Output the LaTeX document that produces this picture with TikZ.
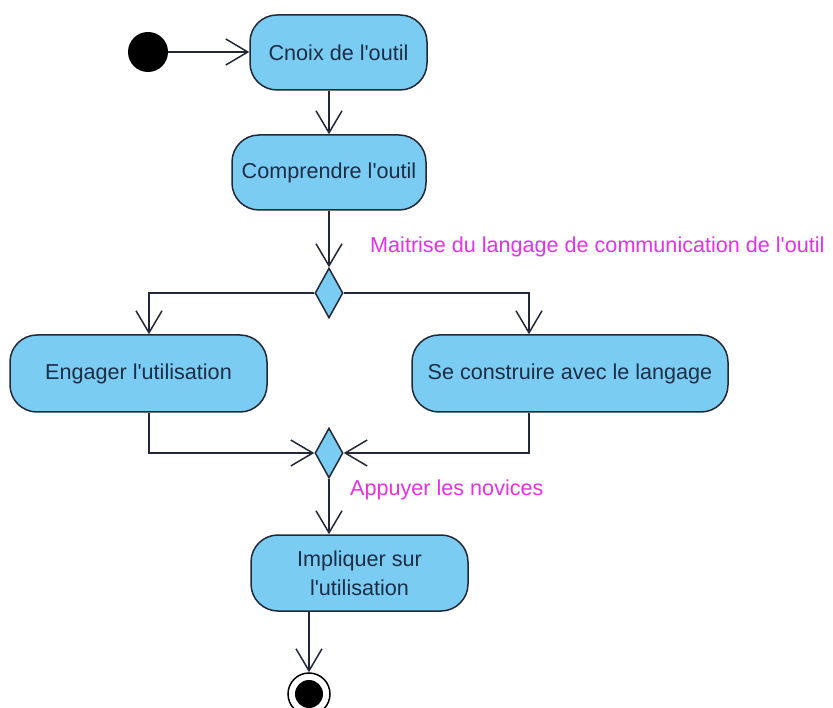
\documentclass[tikz,border=0pt]{standalone}
\usepackage{fontspec}
\setmainfont{Liberation Sans}
\usetikzlibrary{shapes.geometric,arrows.meta}
\definecolor{actfill}{RGB}{122,204,243}
\definecolor{actline}{RGB}{35,40,55}
\definecolor{acttext}{RGB}{30,45,70}
\definecolor{guard}{RGB}{228,50,228}
\newcommand{\apos}{\textquotesingle}
\tikzset{
  activity/.style={rectangle, rounded corners=27pt, draw=actline, fill=actfill, line width=1.5pt,
    text=acttext, inner sep=0pt, align=center, font=\fontsize{21.6}{29}\selectfont},
  decision/.style={diamond, draw=actline, fill=actfill, line width=1.5pt, inner sep=0pt,
    minimum width=28pt, minimum height=50pt},
  flow/.style={draw=actline, line width=1.5pt, -{Straight Barb[length=22pt,width=26pt,line width=1.5pt]}},
  guardlabel/.style={text=guard, anchor=west, inner sep=0pt, font=\fontsize{21.6}{26}\selectfont}
}
\begin{document}
\begin{tikzpicture}[x=1pt,y=-1pt]
\useasboundingbox (0,0) rectangle (833,708);
\fill[white] (0,0) rectangle (833,708);

\node[circle, fill=black, minimum size=40pt, inner sep=0pt] (init) at (148,52) {};
\node[activity, minimum width=177pt, minimum height=75pt] (b1) at (338.5,52.5) {Cnoix de l\apos outil};
\node[activity, minimum width=194pt, minimum height=75pt] (b2) at (329,172.5) {Comprendre l\apos outil};
\node[decision] (d1) at (329,293) {};
\node[guardlabel] (g1) at (370,247) {Maitrise du langage de communication de l\apos outil};
\node[activity, minimum width=257pt, minimum height=77pt] (b3) at (138.5,373.5) {Engager l\apos utilisation};
\node[activity, minimum width=316pt, minimum height=77pt] (b4) at (570,373.5) {Se construire avec le langage};
\node[decision] (d2) at (329,453) {};
\node[guardlabel] (g2) at (350,490) {Appuyer les novices};
\node[activity, minimum width=217pt, minimum height=76pt] (b5) at (359.5,573) {Impliquer sur\\l\apos utilisation};
\node[circle, draw=black, line width=1.5pt, minimum size=42pt, inner sep=0pt,
  path picture={\fill[black] (path picture bounding box.center) circle (14pt);}] (fin) at (309,694) {};

\draw[flow] (init) -- (b1.west |- init);
\draw[flow] (b2.north |- b1.south) -- (b2.north);
\draw[flow] (b2.south) -- (d1.north);
\draw[flow] (d1.west) -| ([xshift=10.5pt]b3.north);
\draw[flow] (d1.east) -| ([xshift=-41pt]b4.north);
\draw[flow] ([xshift=10.5pt]b3.south) |- (d2.west);
\draw[flow] ([xshift=-41pt]b4.south) |- (d2.east);
\draw[flow] (d2.south) -- (d2.south |- b5.north);
\draw[flow] (fin.north |- b5.south) -- (fin.north);
\end{tikzpicture}
\end{document}
